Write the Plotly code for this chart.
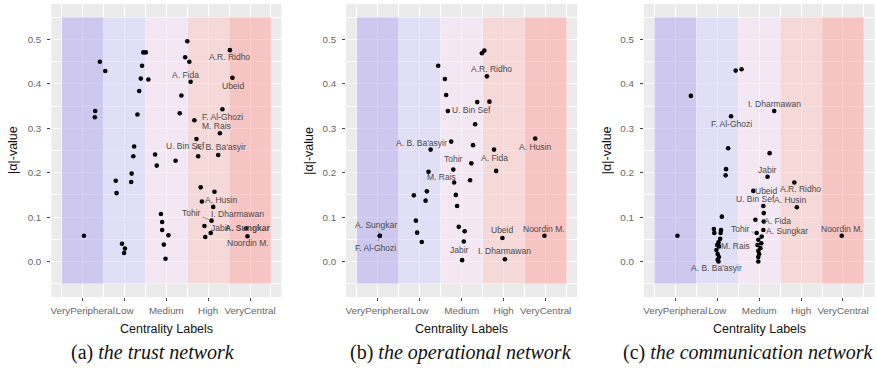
import plotly.graph_objects as go

# ---------------- data ----------------
categories = ["VeryPeripheral", "Low", "Medium", "High", "VeryCentral"]
category_pos = [1, 2, 3, 4, 5]

# (a) trust network
trust_x = [1.03, 1.41, 1.54, 1.30, 1.29,
           1.79, 1.81, 2.17, 2.16, 1.94, 2.01, 1.99,
           2.45, 2.51, 2.42, 2.39, 2.57, 2.35, 2.31, 2.23, 2.21,
           2.73, 2.77,
           2.87, 2.90, 2.90, 3.05, 2.94, 2.98,
           3.22, 3.32, 3.36, 3.50, 3.45, 3.55, 3.58, 3.67, 3.72, 3.76,
           4.24, 4.28, 4.34, 4.52, 4.58,
           3.82, 3.85, 4.15, 4.12, 4.08, 3.91, 4.06, 3.93,
           4.91, 4.94]
trust_y = [0.058, 0.450, 0.429, 0.339, 0.325,
           0.182, 0.154, 0.198, 0.179, 0.040, 0.029, 0.019,
           0.471, 0.471, 0.441, 0.412, 0.410, 0.384, 0.331, 0.259, 0.237,
           0.241, 0.216,
           0.107, 0.089, 0.071, 0.059, 0.038, 0.006,
           0.227, 0.334, 0.374, 0.496, 0.460, 0.450, 0.405, 0.318, 0.276, 0.237,
           0.240, 0.289, 0.343, 0.476, 0.414,
           0.167, 0.135, 0.157, 0.123, 0.092, 0.080, 0.064, 0.055,
           0.075, 0.057]
trust_names = ["", "", "", "", "",
               "", "", "", "", "", "", "",
               "", "", "", "", "", "", "", "", "",
               "", "",
               "", "", "", "", "", "",
               "", "", "", "", "", "", "A. Fida", "", "U. Bin Sef", "",
               "A. B. Ba'asyir", "M. Rais", "F. Al-Ghozi", "A.R. Ridho", "Ubeid",
               "", "", "A. Husin", "I. Dharmawan", "Tohir", "", "Jabir", "",
               "A. Sungkar", "Noordin M."]

# (b) operational network
oper_x = [1.05, 1.05,
          1.86, 2.17, 2.14, 1.91, 1.94, 2.05, 2.26, 2.21, 2.44,
          2.60, 2.63, 2.67, 2.75, 2.80, 2.82, 2.86, 2.89, 2.93, 3.07, 3.05, 3.01,
          3.20, 3.23, 3.27, 3.32, 3.37, 3.48, 3.54,
          3.60, 3.66, 3.77, 3.82, 3.97, 4.03,
          4.75, 4.97]
oper_y = [0.058, 0.058,
          0.149, 0.158, 0.137, 0.092, 0.065, 0.044, 0.252, 0.202, 0.441,
          0.411, 0.375, 0.339, 0.270, 0.207, 0.178, 0.150, 0.125, 0.078, 0.068, 0.045, 0.003,
          0.183, 0.221, 0.262, 0.309, 0.359, 0.469, 0.475,
          0.417, 0.360, 0.252, 0.204, 0.053, 0.005,
          0.277, 0.058]
oper_names = ["A. Sungkar", "F. Al-Ghozi",
              "", "", "", "", "", "", "A. B. Ba'asyir", "", "",
              "", "", "U. Bin Sef", "", "Tohir", "M. Rais", "", "", "", "", "", "Jabir",
              "", "", "", "", "", "", "",
              "A.R. Ridho", "", "A. Fida", "", "Ubeid", "I. Dharmawan",
              "A. Husin", "Noordin M."]

# (c) communication network
comm_x = [1.05, 1.37,
          2.44, 2.58, 2.33, 2.26, 2.21, 2.20, 2.11,
          1.92, 2.09, 1.93, 2.08, 2.07, 2.03, 2.00, 2.04, 1.98, 2.01, 2.04, 2.01, 2.03,
          2.86, 3.10, 3.11, 3.11, 2.91, 3.10, 2.94, 3.06, 2.98, 3.05, 2.96, 3.03, 2.98, 3.00, 2.98, 2.98,
          3.36, 3.25, 3.20,
          3.84, 3.90,
          4.97]
comm_y = [0.058, 0.373,
          0.430, 0.433, 0.327, 0.255, 0.208, 0.194, 0.101,
          0.073, 0.071, 0.064, 0.064, 0.051, 0.043, 0.037, 0.034, 0.026, 0.017, 0.010, 0.004, 0.000,
          0.159, 0.125, 0.109, 0.090, 0.094, 0.071, 0.064, 0.056, 0.049, 0.041, 0.037, 0.030, 0.024, 0.017, 0.010, 0.000,
          0.339, 0.244, 0.191,
          0.178, 0.122,
          0.058]
comm_names = ["", "",
              "", "", "F. Al-Ghozi", "", "", "", "",
              "", "", "", "", "", "", "", "M. Rais", "", "", "", "", "A. B. Ba'asyir",
              "Ubeid", "U. Bin Sef", "", "A. Fida", "", "A. Sungkar", "Tohir", "", "", "", "", "", "", "", "", "",
              "I. Dharmawan", "", "Jabir",
              "A.R. Ridho", "A. Husin",
              "Noordin M."]

captions = [("(a)", "the trust network"),
            ("(b)", "the operational network"),
            ("(c)", "the communication network")]

# ---------------- styling / placement ----------------
# label offsets in pixels: (dx right, dy up, connector flag)
trust_offsets = {"A.R. Ridho": (0, -7, 0), "Ubeid": (1, -8, 0), "A. Fida": (-5, 7, 0),
                 "F. Al-Ghozi": (0, -8, 0), "M. Rais": (-3, 7, 0), "U. Bin Sef": (-11, -7, 0),
                 "A. B. Ba'asyir": (2, 8, 0), "A. Husin": (7, -8, 0), "I. Dharmawan": (24, -7, 0),
                 "Tohir": (-20, 8, 1), "Jabir": (10, 5, 0), "A. Sungkar": (2, 0, 0),
                 "Noordin M.": (0, -7, 0)}
oper_offsets = {"A. Sungkar": (-4, 11, 1), "F. Al-Ghozi": (-4, -12, 1), "A. B. Ba'asyir": (-9, 7, 0),
                "U. Bin Sef": (24, 1, 0), "Tohir": (0, 11, 0), "M. Rais": (-13, 5, 0),
                "Jabir": (-3, 10, 0), "A.R. Ridho": (5, 7, 0), "A. Fida": (0, -8, 0),
                "Ubeid": (0, 8, 0), "I. Dharmawan": (0, 8, 0), "A. Husin": (0, -8, 0),
                "Noordin M.": (0, 7, 0)}
comm_offsets = {"F. Al-Ghozi": (0, -8, 0), "M. Rais": (17, 0, 0), "A. B. Ba'asyir": (-2, -7, 0),
                "Ubeid": (13, 0, 0), "U. Bin Sef": (-8, 7, 0), "A. Fida": (14, 1, 0),
                "A. Sungkar": (24, -1, 0), "Tohir": (-16, 4, 1), "I. Dharmawan": (0, 7, 0),
                "Jabir": (0, 7, 0), "A.R. Ridho": (6, -7, 0), "A. Husin": (-7, 7, 0),
                "Noordin M.": (0, 7, 0)}

band_colors = ["rgba(187,177,240,0.6)", "rgba(218,215,252,0.6)", "rgba(248,228,250,0.6)",
               "rgba(252,203,203,0.6)", "rgba(255,170,170,0.6)"]

W, H = 877, 368
x_domains = [[51.3 / W, 281.4 / W], [346.2 / W, 577.2 / W], [643.9 / W, 874.4 / W]]
y_domain = [1 - 297 / H, 1 - 4 / H]
ytitle_px = [12.5, 308.3, 606.7]
caption_px = [153, 461, 748]

SANS = "Liberation Sans, Arial, sans-serif"
SERIF = "Liberation Serif, Times New Roman, serif"

panels = [(trust_x, trust_y, trust_names, trust_offsets),
          (oper_x, oper_y, oper_names, oper_offsets),
          (comm_x, comm_y, comm_names, comm_offsets)]

fig = go.Figure()
annotations = []
shapes = []
layout = {}

for k, (xs, ys, names, offs) in enumerate(panels):
    sfx = "" if k == 0 else str(k + 1)
    xref, yref = "x" + sfx, "y" + sfx
    fig.add_trace(go.Scatter(x=xs, y=ys, mode="markers", xaxis=xref, yaxis=yref,
                             marker=dict(color="black", size=4.6, line=dict(width=0)),
                             showlegend=False, hoverinfo="skip"))
    for i, c in enumerate(band_colors):
        shapes.append(dict(type="rect", xref=xref, yref=yref, layer="between",
                           x0=category_pos[i] - 0.5, x1=category_pos[i] + 0.5,
                           y0=-0.05, y1=0.55, fillcolor=c, line=dict(width=0)))
    for xv, yv, nm in zip(xs, ys, names):
        if not nm:
            continue
        dx, dy, link = offs.get(nm, (0, 0, 0))
        txt = "<b>" + nm + "</b>" if (k == 0 and nm == "A. Sungkar") else nm
        base = dict(x=xv, y=yv, xref=xref, yref=yref, text=txt,
                    xanchor="center", yanchor="middle",
                    font=dict(family=SANS, size=8.5, color="#4a4a4a"))
        if link:
            base.update(showarrow=True, ax=dx, ay=-dy, arrowhead=0, arrowwidth=0.6,
                        arrowcolor="#666", standoff=2)
        else:
            base.update(showarrow=False, xshift=dx, yshift=dy)
        annotations.append(base)

    axcommon = dict(showline=False, zeroline=False, ticks="outside", ticklen=3,
                    tickcolor="#444", tickwidth=1, gridcolor="white",
                    tickfont=dict(family=SANS, size=9.8, color="#666"))
    layout["xaxis" + sfx] = dict(domain=x_domains[k], range=[0.25, 5.75], anchor=yref,
                                 tickmode="array", tickvals=category_pos, ticktext=categories,
                                 tickangle=0, gridwidth=1.1, ticklabelstandoff=1,
                                 minor=dict(tickmode="linear", tick0=0.5, dtick=1, showgrid=True,
                                            gridcolor="white", gridwidth=0.5),
                                 **axcommon)
    layout["yaxis" + sfx] = dict(domain=y_domain, range=[-0.08, 0.58], anchor=xref,
                                 tickmode="linear", tick0=0, dtick=0.1, tickformat=".1f",
                                 gridwidth=1.1, ticklabelstandoff=4,
                                 minor=dict(tickmode="linear", tick0=0.05, dtick=0.1, showgrid=True,
                                            gridcolor="white", gridwidth=0.5),
                                 **axcommon)
    xc = (x_domains[k][0] + x_domains[k][1]) / 2
    annotations.append(dict(x=xc, y=1 - 329 / H, xref="paper", yref="paper", showarrow=False,
                            xanchor="center", yanchor="middle",
                            text="Centrality Labels",
                            font=dict(family=SANS, size=12.5, color="#111")))
    annotations.append(dict(x=ytitle_px[k] / W, y=1 - 150.5 / H, xref="paper", yref="paper",
                            xanchor="center", yanchor="middle",
                            showarrow=False, text="|α|-value", textangle=-90,
                            font=dict(family=SANS, size=12.5, color="#111")))
    lab, title = captions[k]
    annotations.append(dict(x=caption_px[k] / W, y=1 - 352.7 / H, xref="paper", yref="paper",
                            xanchor="center", yanchor="middle",
                            showarrow=False, text=lab + " <i>" + title + "</i>",
                            font=dict(family=SERIF, size=20, color="#111")))

fig.update_layout(width=W, height=H, autosize=False,
                  margin=dict(l=0, r=0, t=0, b=0),
                  paper_bgcolor="white", plot_bgcolor="#EBEBEB",
                  shapes=shapes, annotations=annotations, **layout)

fig.write_html("out.html")
